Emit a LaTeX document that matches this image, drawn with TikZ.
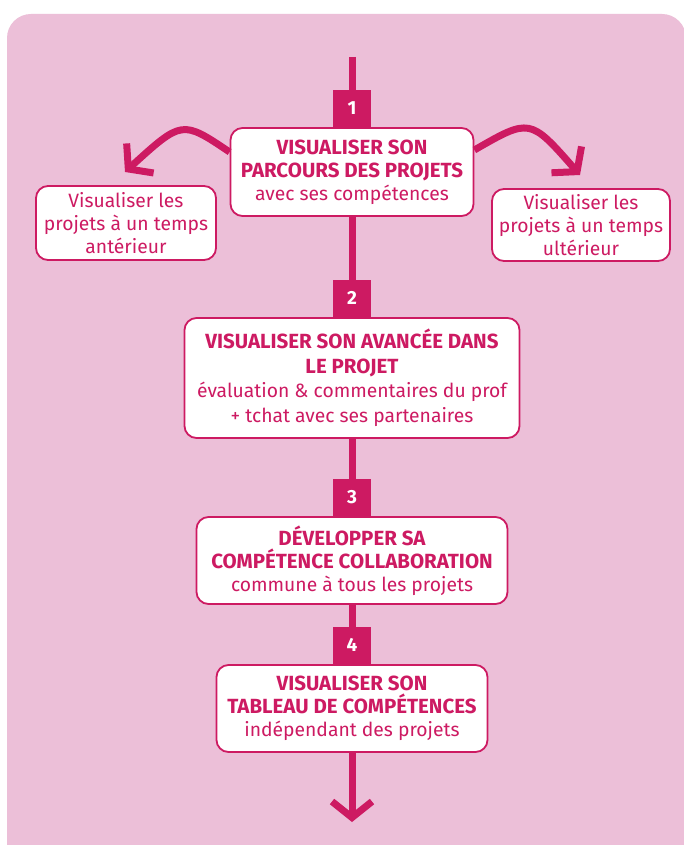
\documentclass[tikz,border=0pt]{standalone}
\usepackage{fontspec}
\setmainfont{Fira Sans}
\usetikzlibrary{positioning,arrows.meta}

\definecolor{fuchsia}{HTML}{CD1A62}
\definecolor{rose}{HTML}{ECBFD8}

\newcommand\titre[1]{{\fontsize{20.5}{23}\selectfont\bfseries #1}}

\tikzset{
  etape/.style={draw=fuchsia, line width=1.8pt, fill=white,
    rounded corners=12pt, text=fuchsia, align=center, inner sep=0pt,
    font=\fontsize{19.3}{23}\selectfont},
  numero/.style={fill=fuchsia, text=white, inner sep=0pt,
    minimum width=38pt, minimum height=37pt,
    font=\fontsize{19}{19}\selectfont\bfseries},
  fleche/.style={draw=fuchsia, line width=7pt},
  pointe/.style={-{Straight Barb[length=16pt, width=40pt]}}
}

\begin{document}
\begin{tikzpicture}[x=1pt, y=-1pt]
  \useasboundingbox (0,0) rectangle (684,845);
  \fill[white] (0,0) rectangle (684,845);
  \fill[rose, rounded corners=24pt] (7,14) rectangle (686,890);

  % les quatre etapes
  \node[etape, minimum width=243pt, minimum height=88pt] (b1) at (352,172)
    {\titre{VISUALISER SON}\\\titre{PARCOURS DES PROJETS}\\avec ses compétences};
  \node[numero, above=0pt of b1] (n1) {1};

  \node[etape, minimum width=180pt, minimum height=74pt] (avant) at (126,223)
    {Visualiser les\\projets à un temps\\antérieur};
  \node[etape, minimum width=178pt, minimum height=72pt] (apres) at (581,225)
    {Visualiser les\\projets à un temps\\ultérieur};

  \node[etape, minimum width=335pt, minimum height=120pt,
    font=\fontsize{19.3}{24.5}\selectfont] (b2) at (352,378)
    {\titre{VISUALISER SON AVANCÉE DANS}\\\titre{LE PROJET}\\évaluation \& commentaires du prof\\+ tchat avec ses partenaires};
  \node[numero, above=0pt of b2] (n2) {2};

  \node[etape, minimum width=311pt, minimum height=87pt] (b3) at (352,560.5)
    {\titre{DÉVELOPPER SA}\\\titre{COMPÉTENCE COLLABORATION}\\commune à tous les projets};
  \node[numero, above=0pt of b3] (n3) {3};

  \node[etape, minimum width=271pt, minimum height=87pt] (b4) at (352,708.5)
    {\titre{VISUALISER SON}\\\titre{TABLEAU DE COMPÉTENCES}\\indépendant des projets};
  \node[numero, above=0pt of b4] (n4) {4};

  % le fil vertical
  \coordinate (haut) at (352,57);
  \coordinate (bas) at (352,822);
  \draw[fleche] (haut) -- (n1);
  \draw[fleche] (b1) -- (n2);
  \draw[fleche] (b2) -- (n3);
  \draw[fleche] (b3) -- (n4);
  \draw[fleche, pointe] (b4) -- (bas);

  % retours vers les autres temps
  \coordinate (gauche) at (125,172);
  \coordinate (droite) at (580,175);
  \draw[fleche, pointe] ([yshift=20pt]b1.west) .. controls (182,120) .. (gauche);
  \draw[fleche, pointe] ([yshift=22pt]b1.east) .. controls (530,118) .. (droite);
\end{tikzpicture}
\end{document}
